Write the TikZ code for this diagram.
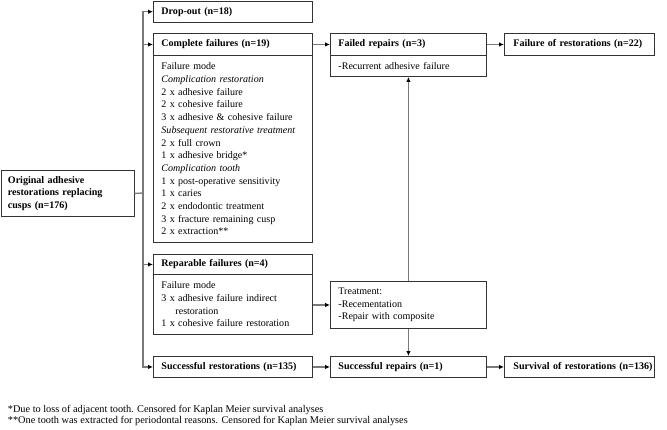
\documentclass[tikz,border=0pt]{standalone}
\usepackage{fontspec}
\setmainfont{Liberation Serif}
\usetikzlibrary{arrows.meta}
\definecolor{boxc}{HTML}{333333}
\definecolor{connc}{HTML}{7A7A7A}
\begin{document}
\begin{tikzpicture}[x=1pt,y=-1pt,
  box/.style={draw=boxc, line width=0.9pt, anchor=north west, inner xsep=8pt, inner ysep=0pt,
    align=left, font=\fontsize{10.05}{12.7}\selectfont},
  conn/.style={draw=connc, line width=1.3pt},
  arr/.style={conn, -{Latex[length=5pt,width=4.5pt,color=black]}},
  note/.style={anchor=west, inner sep=0pt, font=\fontsize{10.3}{12}\selectfont}]
\useasboundingbox (0,0) rectangle (667,429);

\node[box, text width=143, minimum height=20.5] (drop) at (153,1) {\textbf{Drop-out (n=18)}};
\node[box, text width=143, minimum height=22] (cfh) at (153,33) {\textbf{Complete failures (n=19)}};
\node[box, text width=143, minimum height=187] (cfb) at (153,55) {Failure mode\\
\textit{Complication restoration}\\
2 x adhesive failure\\
2 x cohesive failure\\
3 x adhesive \& cohesive failure\\
\textit{Subsequent restorative treatment}\\
2 x full crown\\
1 x adhesive bridge*\\
\textit{Complication tooth}\\
1 x post-operative sensitivity\\
1 x caries\\
2 x endodontic treatment\\
3 x fracture remaining cusp\\
2 x extraction**};
\node[box, inner xsep=7pt, text width=119, minimum height=46] (orig) at (0.5,170) {\textbf{Original adhesive}\\\textbf{restorations replacing}\\\textbf{cusps (n=176)}};
\node[box, text width=143, minimum height=20] (rph) at (153,254) {\textbf{Reparable failures (n=4)}};
\node[box, text width=143, minimum height=60] (rpb) at (153,274) {Failure mode\\3 x adhesive failure indirect\\\hspace*{14pt}restoration\\1 x cohesive failure restoration};
\node[box, text width=143, minimum height=21] (succ) at (153,356) {\textbf{Successful restorations (n=135)}};

\node[box, text width=140, minimum height=22] (frh) at (330,33) {\textbf{Failed repairs (n=3)}};
\node[box, text width=140, minimum height=21] (frb) at (330,55) {-Recurrent adhesive failure};
\node[box, inner xsep=9pt, text width=132, minimum height=22] (fo) at (504,33) {\mbox{\textbf{Failure of restorations (n=22)}}};
\node[box, text width=140, minimum height=47] (treat) at (330,281) {Treatment:\\-Recementation\\-Repair with composite};
\node[box, text width=140, minimum height=21] (srep) at (330,356) {\textbf{Successful repairs (n=1)}};
\node[box, inner xsep=9pt, text width=132, minimum height=21] (surv) at (504,356) {\rlap{\textbf{Survival of restorations (n=136)}}};

\node[note] (fn1) at (7.7,410) {*Due to loss of adjacent tooth. Censored for Kaplan Meier survival analyses};
\node[note] (fn2) at (7.7,421) {**One tooth was extracted for periodontal reasons. Censored for Kaplan Meier survival analyses};

\coordinate (tj) at (143,193);
\draw[conn] (orig.east) -- (tj);
\draw[arr] (tj) |- (drop.west);
\draw[arr] (tj) |- (succ.west);
\draw[arr] (tj |- cfh.west) -- (cfh.west);
\draw[arr] (tj |- rph.west) -- (rph.west);

\draw[arr] (cfh.east) -- (frh.west);
\draw[arr] (frh.east) -- (fo.west);
\draw[arr] (rpb.east |- treat.west) -- (treat.west);
\draw[arr] (succ.east) -- (srep.west);
\draw[arr] (srep.east) -- (surv.west);
\draw[arr] (treat.north) -- (frb.south);
\draw[arr] (treat.south) -- (srep.north);
\end{tikzpicture}
\end{document}
